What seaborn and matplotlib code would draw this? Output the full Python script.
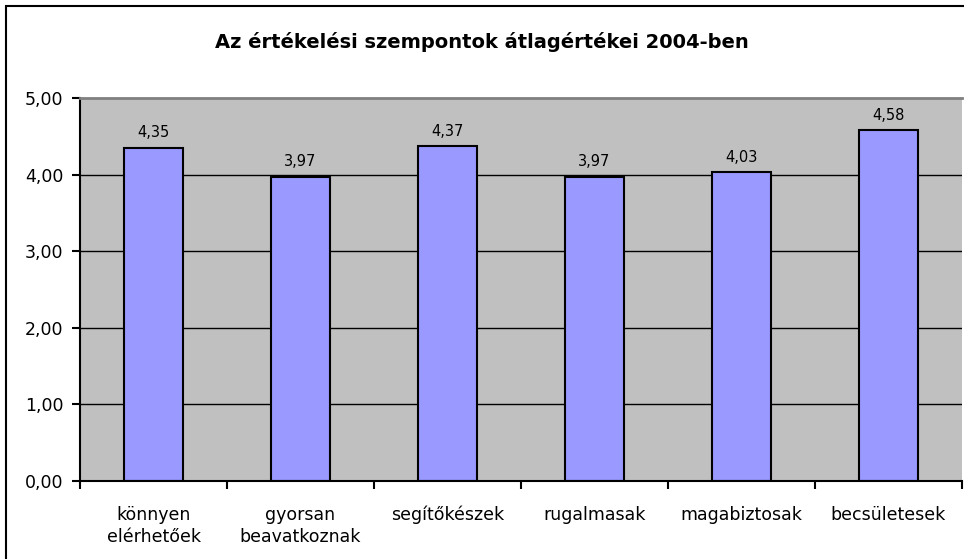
import matplotlib
matplotlib.use('Agg')
import matplotlib.pyplot as plt
import seaborn as sns
import pandas as pd
from matplotlib.patches import Rectangle

# Data
categories = ['könnyen\nelérhetőek', 'gyorsan\nbeavatkoznak', 'segítőkészek',
              'rugalmasak', 'magabiztosak', 'becsületesek']
values = [4.35, 3.97, 4.37, 3.97, 4.03, 4.58]
yticks = [0, 1, 2, 3, 4, 5]

df = pd.DataFrame({'cat': categories, 'val': values})

sns.set_style('white')
plt.rcParams['font.family'] = ['DejaVu Sans']
plt.rcParams['text.color'] = 'black'
plt.rcParams['xtick.color'] = 'black'
plt.rcParams['ytick.color'] = 'black'

fig = plt.figure(figsize=(9.64, 5.59), dpi=100)
ax = fig.add_axes([80 / 964, 1 - 481 / 559, 882 / 964, 383 / 559])
ax.set_facecolor('#C0C0C0')

sns.barplot(data=df, x='cat', y='val', ax=ax, color='#9999FF',
            edgecolor='black', linewidth=1.5, width=0.4, saturation=1)

# horizontal gridlines (black) behind bars
for t in yticks[1:-1]:
    ax.axhline(t, color='black', linewidth=1, zorder=0)

ax.set_ylim(0, 5)
ax.set_xlim(-0.5, len(categories) - 0.5)
ax.set_yticks(yticks)
ax.set_yticklabels([f'{t:.2f}'.replace('.', ',') for t in yticks], fontsize=12.5)
ax.set_xticks(range(len(categories)))
ax.set_xticklabels(categories, fontsize=12.5, linespacing=1.3)
ax.tick_params(axis='x', length=0, pad=18)
ax.tick_params(axis='y', length=6, width=1.5, color='black', left=True, pad=6)
# minor ticks between categories on x axis
ax.set_xticks([i + 0.5 for i in range(-1, len(categories))], minor=True)
ax.tick_params(axis='x', which='minor', length=6, width=1.5, color='black', bottom=True)
ax.set_xlabel('')
ax.set_ylabel('')

for s in ['left', 'bottom']:
    ax.spines[s].set_color('black')
    ax.spines[s].set_linewidth(1.5)
ax.spines['top'].set_color('#808080')
ax.spines['top'].set_linewidth(2)
ax.spines['right'].set_visible(False)

for i, v in enumerate(values):
    ax.text(i, v + 0.1, f'{v:.2f}'.replace('.', ','), ha='center', va='bottom',
            fontsize=10.5)

fig.text(0.5, 1 - 42 / 559, 'Az értékelési szempontok átlagértékei 2004-ben',
         ha='center', va='center', fontsize=14, fontweight='bold')

# outer chart border
fig.patches.append(Rectangle((6 / 964, -0.01), 1.0, 1 - 6 / 559 + 0.01,
                             transform=fig.transFigure, fill=False,
                             edgecolor='black', linewidth=1.5))

fig.savefig('out.png', dpi=100)
